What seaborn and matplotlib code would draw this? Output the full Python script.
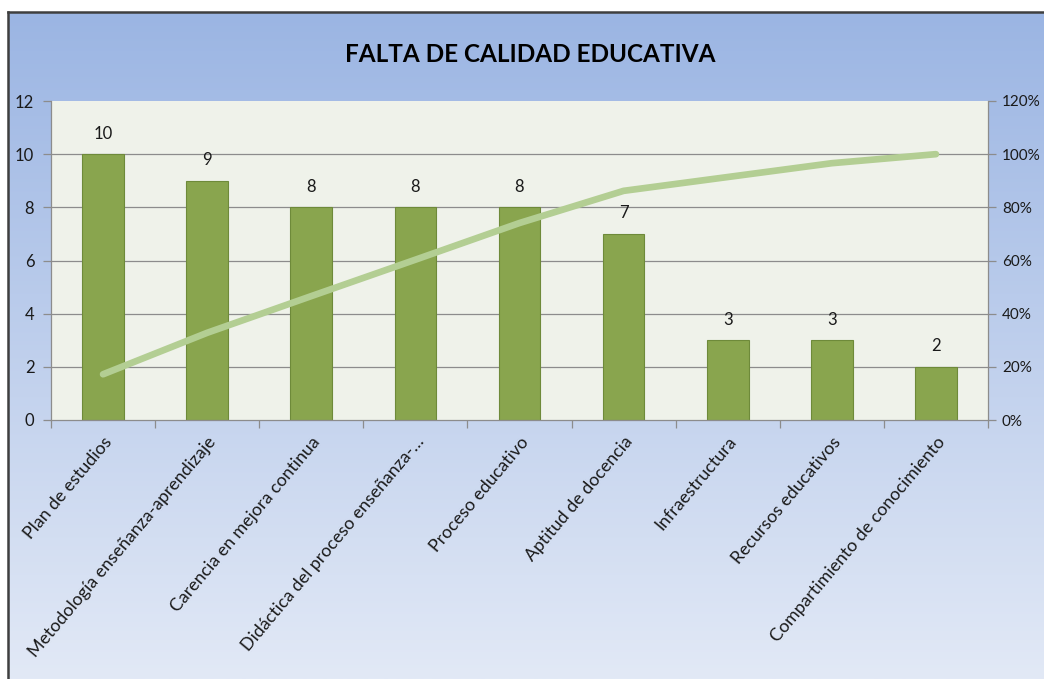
import numpy as np
import pandas as pd
import matplotlib
matplotlib.use("Agg")
import matplotlib.pyplot as plt
import matplotlib.transforms as mtrans
import seaborn as sns
from matplotlib.ticker import FixedLocator, FuncFormatter

categories = ["Plan de estudios", "Metodología enseñanza-aprendizaje", "Carencia en mejora continua",
              "Didáctica del proceso enseñanza-…", "Proceso educativo", "Aptitud de docencia",
              "Infraestructura", "Recursos educativos", "Compartimiento de conocimiento"]
counts = [10, 9, 8, 8, 8, 7, 3, 3, 2]
cumulative_pct = [17.2, 32.8, 46.6, 60.3, 74.1, 86.2, 91.4, 96.6, 100.0]
title = "FALTA DE CALIDAD EDUCATIVA"

sns.set_theme(style="white")
plt.rcParams['font.family'] = ['Lato', 'DejaVu Sans']

W, H = 1044, 679
fig = plt.figure(figsize=(W / 100, H / 100), dpi=100)
fig.patch.set_facecolor("white")

# gradient background panel
bx0, by1 = 8 / W, 1 - 12 / H
bg = fig.add_axes([bx0, 0, 1 - bx0, by1])
grad = np.linspace(0, 1, 256).reshape(-1, 1)
top = np.array([0x9b, 0xb5, 0xe3]) / 255
bot = np.array([0xe2, 0xe9, 0xf6]) / 255
img = top[None, None, :] * (1 - grad[:, :, None]) + bot[None, None, :] * grad[:, :, None]
bg.imshow(img, aspect="auto", extent=[0, 1, 0, 1], origin="upper")
bg.set_xlim(0, 1); bg.set_ylim(0, 1)
bg.set_xticks([]); bg.set_yticks([])
for s in ["right", "bottom"]:
    bg.spines[s].set_visible(False)
for s in ["left", "top"]:
    bg.spines[s].set_color("#3f3f3f")
    bg.spines[s].set_linewidth(1.8)

ax = fig.add_axes([51 / W, 1 - 420 / H, (988 - 51) / W, (420 - 101) / H])
ax.set_facecolor("#eff2ea")
df = pd.DataFrame({"cat": categories, "n": counts})
sns.barplot(data=df, x="cat", y="n", ax=ax, color="#89a54e", width=0.4,
            edgecolor="#6e8a3a", linewidth=0.8, saturation=1)
ax.set_xlim(-0.5, len(categories) - 0.5)
ax.set_ylim(0, 12)
ax.set_yticks(range(0, 13, 2))
ax.set_xlabel(""); ax.set_ylabel("")
for y in range(2, 12, 2):
    ax.axhline(y, color="#8c8c8c", lw=0.9, zorder=0.5)
ax.set_axisbelow(True)
for i, v in enumerate(counts):
    ax.annotate(str(v), (i, v), xytext=(0, 9), textcoords="offset points",
                ha="center", va="bottom", fontsize=12, color="#1a1a1a")

ax.set_xticks(range(len(categories)))
ax.set_xticklabels(categories, rotation=50, ha="right", rotation_mode="anchor",
                   fontsize=12.8, color="#1a1a1a")
shift = mtrans.ScaledTranslation(8 / 100, 0, fig.dpi_scale_trans)
for lab in ax.get_xticklabels():
    lab.set_transform(lab.get_transform() + shift)
ax.xaxis.set_minor_locator(FixedLocator(np.arange(-0.5, len(categories), 1)))
ax.tick_params(axis="x", which="major", length=0, pad=10)
ax.tick_params(axis="x", which="minor", length=6, color="#8c8c8c", width=0.9, direction="out", bottom=True)
ax.tick_params(axis="y", length=6, color="#8c8c8c", width=0.9, direction="out", labelsize=12,
               labelcolor="#1a1a1a", pad=6, left=True)
for s in ["left", "bottom"]:
    ax.spines[s].set_color("#8c8c8c"); ax.spines[s].set_linewidth(0.9)
ax.spines["top"].set_visible(False)
ax.spines["right"].set_visible(False)

ax2 = ax.twinx()
sns.lineplot(x=np.arange(len(categories)), y=cumulative_pct, ax=ax2, color="#b3ce93",
             linewidth=4.8, solid_capstyle="round")
ax2.set_ylim(0, 120)
ax2.set_yticks(range(0, 121, 20))
ax2.yaxis.set_major_formatter(FuncFormatter(lambda v, p: f"{int(v)}%"))
ax2.tick_params(axis="y", length=6, color="#8c8c8c", width=0.9, direction="out", labelsize=11,
                labelcolor="#1a1a1a", pad=4, right=True)
ax2.set_ylabel("")
for s in ["left", "top", "bottom"]:
    ax2.spines[s].set_visible(False)
ax2.spines["right"].set_color("#8c8c8c"); ax2.spines["right"].set_linewidth(0.9)

fig.text(530 / W, 1 - 55 / H, title, ha="center", va="center", fontsize=17.5, fontweight="bold",
         color="black")

fig.savefig("out.png", dpi=100)
